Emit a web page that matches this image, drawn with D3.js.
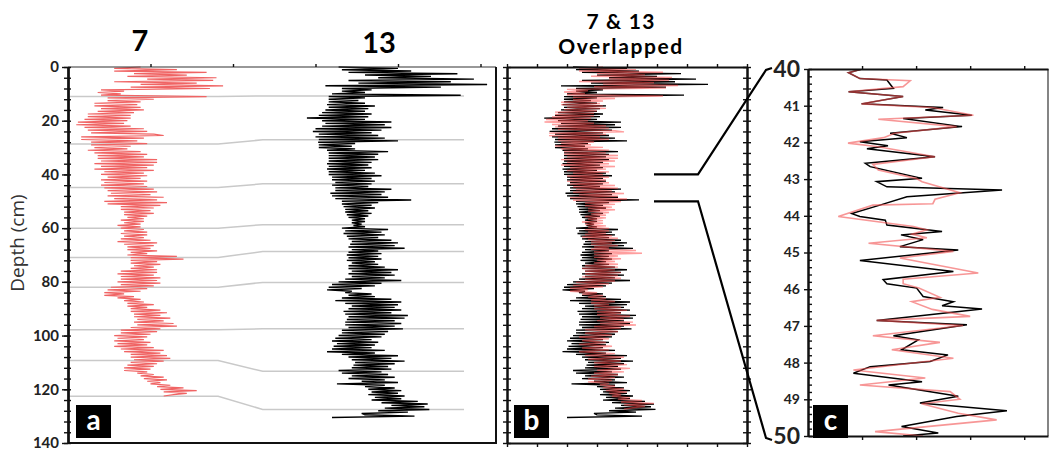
<!DOCTYPE html>
<html>
<head>
<meta charset="utf-8">
<script src="https://cdn.jsdelivr.net/npm/d3@7"></script>
<style>
body { margin: 0; background: #fff; }
text { font-family: Lato, "Open Sans", sans-serif; }
</style>
</head>
<body>
<svg id="chart" width="1052" height="453"></svg>
<script>
// sample spacing of both cores (cm)
var depthStep = 0.5;

// core 7, one value every 0.5 cm from 0 cm
var val7 = [
  2.2,1.4,3.3,1.4,4.2,2.0,3.6,1.8,4.5,2.4,
  4.4,1.4,3.9,2.2,4.7,1.9,4.3,1.0,1.7,0.9,
  1.6,1.0,4.2,1.2,2.6,1.2,2.2,0.8,2.1,0.8,
  2.2,1.0,2.3,0.9,2.0,0.6,1.9,0.6,1.9,0.5,
  1.8,0.3,1.7,0.25,1.9,0.5,2.3,0.6,2.4,0.7,
  2.6,2.9,0.4,2.3,0.4,2.1,0.7,2.4,0.7,1.9,
  0.8,1.8,0.6,2.2,0.8,2.4,0.9,2.3,0.9,2.7,
  1.0,2.7,0.8,2.6,1.0,2.4,0.8,2.6,1.1,2.3,
  1.0,2.4,1.2,2.2,1.0,2.4,1.1,2.3,1.0,2.4,
  1.1,2.6,1.2,2.7,1.3,2.5,1.2,2.9,1.4,2.7,
  1.1,3.0,1.2,2.8,1.6,2.6,1.6,2.5,1.7,2.6,
  1.7,2.4,1.8,2.3,1.6,2.3,1.7,2.2,1.5,2.2,
  1.6,2.3,1.7,2.4,1.6,2.4,1.7,2.3,1.6,2.5,
  1.5,2.7,1.7,2.6,1.8,2.5,1.8,2.7,1.9,2.4,
  1.8,3.3,1.9,3.5,1.9,2.7,1.9,2.8,2.0,2.6,
  1.9,2.7,1.6,2.7,1.5,2.6,1.6,2.8,1.6,2.7,
  1.5,2.8,1.6,2.6,1.3,2.4,1.2,2.2,1.1,1.7,
  1.1,2.0,1.5,2.2,1.7,2.3,1.8,2.6,1.8,2.4,
  1.9,2.8,1.9,3.0,2.0,2.8,2.0,3.1,2.1,2.9,
  2.0,3.2,2.1,3.3,1.9,2.8,1.6,2.7,1.6,2.5,
  1.4,2.4,1.5,2.3,1.4,2.5,1.5,2.4,1.4,2.6,
  1.6,2.9,1.7,2.8,1.9,3.0,1.9,3.1,2.0,2.9,
  1.9,2.7,1.8,2.6,1.7,2.5,1.7,2.4,2.1,2.6,
  2.2,2.9,2.3,3.0,2.4,2.8,2.5,3.1,2.7,3.5,
  2.8,3.9,2.9,3.6,3.2,2.9
];

// core 13, one value every 0.5 cm from 0 cm
var val13 = [
  1.2,3.0,1.3,3.4,1.5,4.8,2.0,4.0,2.4,5.3,
  1.5,4.6,1.8,5.7,0.8,4.3,1.3,2.2,1.3,2.0,
  1.0,4.9,0.9,2.0,0.9,1.8,0.9,2.0,0.85,2.3,
  0.9,2.1,0.8,2.0,0.7,2.2,0.6,2.1,0.24,2.0,
  0.7,2.8,0.8,2.6,0.7,2.8,0.5,2.5,0.42,2.2,
  0.6,2.4,0.5,2.6,0.6,3.0,0.58,1.7,0.6,1.6,
  0.6,1.7,0.85,2.7,0.9,2.4,0.9,2.3,0.9,2.4,
  0.9,2.2,0.85,2.1,0.9,2.2,0.85,2.0,0.9,2.3,
  0.9,2.5,1.0,2.2,1.0,2.3,1.1,2.2,1.0,2.1,
  1.1,2.8,1.1,2.6,0.95,2.5,1.0,2.7,1.1,3.4,
  1.3,2.4,1.3,2.2,1.35,2.3,1.4,2.1,1.4,2.2,
  1.45,2.1,1.5,2.0,1.6,2.0,1.6,1.9,1.65,2.0,
  1.3,2.7,1.4,2.5,1.35,2.6,1.45,2.4,1.5,2.8,
  1.6,3.0,1.55,2.9,1.5,3.2,1.6,2.4,1.5,2.5,
  1.45,2.4,1.5,2.5,1.45,2.3,1.6,2.4,1.5,2.6,
  1.5,3.0,1.6,2.8,1.5,2.9,1.6,2.6,1.4,3.1,
  1.2,2.5,1.0,2.3,0.9,1.9,0.85,1.6,1.4,2.2,
  1.5,2.3,1.3,2.8,1.1,3.1,1.4,3.0,1.6,2.9,
  1.5,3.1,1.35,2.8,1.4,3.3,1.5,3.2,1.45,2.9,
  1.4,3.1,1.4,2.9,1.5,3.15,1.3,2.7,1.3,2.6,
  1.2,2.5,1.1,2.2,1.0,2.4,1.15,2.3,1.05,2.2,
  1.0,2.6,0.85,2.3,1.3,3.0,1.5,2.8,1.6,3.2,
  1.7,2.9,1.65,2.7,1.6,2.8,1.2,2.5,1.3,2.7,
  1.6,2.9,1.5,2.6,1.9,3.0,1.15,2.6,2.0,2.9,
  2.1,3.1,2.2,3.0,2.1,3.2,2.3,3.1,2.2,3.6,
  2.5,3.9,2.8,3.8,2.6,3.95,2.4,3.3,1.9,2.0,
  3.5,1.0
];

// tie points: depth in core 7 -> matching depth in core 13
var tie7  = [11.0, 28.7, 44.9, 60.0, 70.9, 82.0, 97.8, 109.3, 122.6];
var tie13 = [10.8, 27.1, 43.5, 58.7, 68.7, 80.2, 97.5, 113.3, 127.5];

// detail of 40-50 cm: [depth, value]
var zoom13 = [
  [40.0,1.0],[40.1,0.75],[40.26,0.96],[40.3,1.46],[40.53,1.58],[40.62,0.75],[40.75,1.76],
  [40.95,0.99],[41.05,2.5],[41.12,2.17],[41.26,3.03],[41.35,1.76],[41.57,2.85],[41.75,1.52],
  [41.87,1.83],[41.98,0.96],[42.09,1.48],[42.17,1.09],[42.39,2.35],[42.57,1.06],[42.66,1.15],
  [42.98,2.11],[43.07,1.27],[43.21,1.46],[43.3,3.59],[43.48,1.83],[43.71,1.33],[43.94,0.81],
  [44.02,0.96],[44.12,1.43],[44.25,1.46],[44.43,2.48],[44.52,1.72],[44.65,2.13],[44.84,1.7],
  [44.93,2.78],[45.22,0.96],[45.52,2.69],[45.74,1.39],[45.85,1.46],[45.97,2.01],[46.2,2.13],
  [46.34,2.69],[46.45,2.48],[46.54,3.22],[46.85,1.27],[46.97,2.94],[47.27,1.58],[47.38,2.04],
  [47.65,1.73],[47.79,2.59],[47.97,2.26],[48.11,1.15],[48.29,0.84],[48.52,2.11],[48.61,1.49],
  [48.92,2.78],[49.1,2.07],[49.31,3.68],[49.47,2.75],[49.74,1.73],[49.92,2.41],[50.0,1.76]
];
var zoom7 = [
  [40.0,1.0],[40.1,0.75],[40.26,0.96],[40.32,1.89],[40.48,1.76],[40.62,0.75],[40.75,1.76],
  [40.95,0.99],[41.05,2.3],[41.26,3.06],[41.37,1.3],[41.57,2.75],[41.75,1.6],[41.87,1.4],
  [42.02,0.74],[42.12,1.3],[42.39,2.35],[42.6,1.2],[42.75,1.3],[42.98,2.0],[43.07,2.11],
  [43.37,2.81],[43.55,2.35],[43.67,2.31],[43.71,1.2],[44.02,0.56],[44.29,1.95],[44.38,2.2],
  [44.5,1.92],[44.6,2.2],[44.75,1.12],[44.97,2.69],[45.15,1.7],[45.56,3.15],[45.73,1.76],
  [45.85,1.76],[45.97,2.05],[46.22,2.44],[46.34,1.92],[46.55,2.3],[46.74,3.0],[46.85,1.27],
  [46.99,2.87],[47.27,1.2],[47.45,2.44],[47.65,1.55],[47.88,2.69],[48.2,0.84],[48.42,2.17],
  [48.61,0.96],[48.79,2.63],[49.0,2.81],[49.12,2.1],[49.38,2.78],[49.56,3.49],[49.88,1.24],
  [50.0,2.13]
];

var depthLabels = [0, 20, 40, 60, 80, 100, 120, 140];
var zoomLabels = [40, 41, 42, 43, 44, 45, 46, 47, 48, 49, 50];

var svg = d3.select("#chart");

// scales
var yA = d3.scaleLinear().domain([0, 140]).range([67, 443]);
var xA = d3.scaleLinear().domain([0, 13]).range([68, 497]);
var offset13 = 7; // core 13 is drawn shifted right in panel a
var xB = d3.scaleLinear().domain([-1, 7]).range([507, 747]);
var xC = d3.scaleLinear().domain([0, 4.44]).range([808, 1048]);
var yC = d3.scaleLinear().domain([40, 50]).range([69, 436]);
var to13 = d3.scaleLinear().domain([0].concat(tie7)).range([0].concat(tie13));

var data7 = val7.map(function (v, i) { return { d: i * depthStep, v: v }; });
var data13 = val13.map(function (v, i) { return { d: i * depthStep, v: v }; });

function styleAxis(g, w) {
    g.select(".domain").attr("stroke", "#111").attr("stroke-width", w || 2);
    g.selectAll(".tick line").attr("stroke", "#111").attr("stroke-width", 1.4);
    g.selectAll(".tick text").attr("fill", "#222").style("font-weight", "bold");
}

// ---------- panel a ----------
var gA = svg.append("g");

// tie lines
tie7.forEach(function (d7, i) {
    var d13 = tie13[i];
    gA.append("polyline")
        .attr("points", [[xA(0), yA(d7)], [xA(4.55), yA(d7)], [xA(5.9), yA(d13)], [xA(12), yA(d13)]].join(" "))
        .attr("fill", "none")
        .attr("stroke", "#c9c9c9")
        .attr("stroke-width", 1.5);
});

gA.append("path")
    .datum(data7)
    .attr("fill", "none")
    .attr("stroke", "#f06464")
    .attr("stroke-width", 1.2)
    .attr("d", d3.line().x(function (d) { return xA(d.v); }).y(function (d) { return yA(d.d); }));

gA.append("path")
    .datum(data13)
    .attr("fill", "none")
    .attr("stroke", "#000")
    .attr("stroke-width", 1.4)
    .attr("d", d3.line().x(function (d) { return xA(d.v + offset13); }).y(function (d) { return yA(d.d); }));

// frame
gA.append("line").attr("x1", xA(0)).attr("x2", 496).attr("y1", 67).attr("y2", 67).attr("stroke", "#333").attr("stroke-width", 1.2);
gA.append("line").attr("x1", xA(0)).attr("x2", 497).attr("y1", 443).attr("y2", 443).attr("stroke", "#111").attr("stroke-width", 2);
gA.append("line").attr("x1", 496).attr("x2", 496).attr("y1", 67).attr("y2", 443).attr("stroke", "#111").attr("stroke-width", 2);

gA.append("g").attr("transform", "translate(0,67)")
    .call(d3.axisTop(xA).tickValues([2.5, 5, 7.5, 10, 12.5]).tickSize(3).tickSizeOuter(0).tickFormat(""))
    .call(function (g) { styleAxis(g, 1.2); g.select(".domain").remove(); });

gA.append("g").attr("transform", "translate(68,0)")
    .call(d3.axisRight(yA).tickValues(d3.range(0, 141, 4)).tickSize(3).tickSizeOuter(0).tickFormat(""))
    .call(styleAxis);
gA.append("g").attr("transform", "translate(68,0)")
    .call(d3.axisLeft(yA).tickValues(d3.range(0, 141, 4)).tickSize(4).tickSizeOuter(0).tickFormat(""))
    .call(styleAxis);
gA.append("g").attr("transform", "translate(68,0)")
    .call(d3.axisLeft(yA).tickValues(depthLabels).tickSize(6).tickPadding(3).tickSizeOuter(0))
    .call(styleAxis)
    .selectAll(".tick text").style("font-size", "15px");

svg.append("text")
    .attr("transform", "translate(24,243) rotate(-90)")
    .attr("text-anchor", "middle")
    .style("font-family", "'Open Sans', sans-serif")
    .style("font-size", "19px")
    .attr("fill", "#333")
    .text("Depth (cm)");

svg.append("text").attr("x", 140).attr("y", 51).attr("text-anchor", "middle")
    .style("font-size", "29px").style("font-weight", "bold").text("7");
svg.append("text").attr("x", 379).attr("y", 53).attr("text-anchor", "middle")
    .style("font-size", "29px").style("font-weight", "bold").text("13");

// ---------- panel b ----------
var gB = svg.append("g");

gB.append("path")
    .datum(data13)
    .attr("fill", "none")
    .attr("stroke", "#000")
    .attr("stroke-width", 1.3)
    .attr("d", d3.line().x(function (d) { return xB(d.v); }).y(function (d) { return yA(d.d); }));

gB.append("path")
    .datum(data7)
    .attr("fill", "none")
    .attr("stroke", "#ff4f4f")
    .attr("stroke-opacity", 0.55)
    .attr("stroke-width", 1.4)
    .attr("d", d3.line().x(function (d) { return xB(d.v); }).y(function (d) { return yA(to13(d.d)); }));

[507, 747].forEach(function (x) {
    gB.append("g").attr("transform", "translate(" + x + ",0)")
        .call(d3.axisRight(yA).tickValues(d3.range(0, 141, 4)).tickSize(4).tickSizeOuter(0).tickFormat(""))
        .call(styleAxis);
    gB.append("g").attr("transform", "translate(" + x + ",0)")
        .call(d3.axisLeft(yA).tickValues(d3.range(0, 141, 4)).tickSize(4).tickSizeOuter(0).tickFormat(""))
        .call(styleAxis);
});
gB.append("g").attr("transform", "translate(0,67)")
    .call(d3.axisTop(xB).tickValues(d3.range(-1, 8)).tickSize(3).tickSizeOuter(0).tickFormat(""))
    .call(function (g) { styleAxis(g, 2); });
gB.append("g").attr("transform", "translate(0,443)")
    .call(d3.axisBottom(xB).tickValues(d3.range(-1, 8)).tickSize(4).tickSizeOuter(0).tickFormat(""))
    .call(function (g) { styleAxis(g, 2); });

svg.append("text").attr("x", 621).attr("y", 29).attr("text-anchor", "middle")
    .style("font-size", "21px").style("font-weight", "bold").style("letter-spacing", "1.2px").text("7 & 13");
svg.append("text").attr("x", 621).attr("y", 54).attr("text-anchor", "middle")
    .style("font-size", "21px").style("font-weight", "bold").style("letter-spacing", "1.6px").text("Overlapped");

// connectors from panel b to panel c
[[40, 70, 68], [50, 438, 440]].forEach(function (c) {
    svg.append("polyline")
        .attr("points", [[654, yA(c[0])], [698, yA(c[0])], [766, c[1]], [772, c[2]]].join(" "))
        .attr("fill", "none")
        .attr("stroke", "#000")
        .attr("stroke-width", 2.2);
});

// ---------- panel c ----------
var gC = svg.append("g");
svg.append("clipPath").attr("id", "clipC")
    .append("rect").attr("x", 808).attr("y", 69).attr("width", 240).attr("height", 367);

gC.append("path")
    .datum(zoom13)
    .attr("clip-path", "url(#clipC)")
    .attr("fill", "none")
    .attr("stroke", "#000")
    .attr("stroke-width", 1.5)
    .attr("d", d3.line().x(function (d) { return xC(d[1]); }).y(function (d) { return yC(d[0]); }));

gC.append("path")
    .datum(zoom7)
    .attr("clip-path", "url(#clipC)")
    .attr("fill", "none")
    .attr("stroke", "#f25050")
    .attr("stroke-opacity", 0.6)
    .attr("stroke-width", 1.6)
    .attr("d", d3.line().x(function (d) { return xC(d[1]); }).y(function (d) { return yC(d[0]); }));

gC.append("line").attr("x1", 1048).attr("x2", 1048).attr("y1", 69).attr("y2", 436).attr("stroke", "#333").attr("stroke-width", 1.2);
gC.append("g").attr("transform", "translate(0,69)")
    .call(d3.axisTop(xC).tickValues([1, 2, 3, 4]).tickSize(3).tickSizeOuter(0).tickFormat(""))
    .call(function (g) { styleAxis(g, 2); });
gC.append("g").attr("transform", "translate(0,436)")
    .call(d3.axisBottom(xC).tickValues([1, 2, 3, 4]).tickSize(4).tickSizeOuter(0).tickFormat(""))
    .call(function (g) { styleAxis(g, 2); });
gC.append("g").attr("transform", "translate(808,0)")
    .call(d3.axisRight(yC).tickValues(d3.range(40, 50.01, 0.2)).tickSize(4).tickSizeOuter(0).tickFormat(""))
    .call(styleAxis);
gC.append("g").attr("transform", "translate(808,0)")
    .call(d3.axisLeft(yC).tickValues(zoomLabels).tickSize(4).tickPadding(4).tickSizeOuter(0))
    .call(styleAxis)
    .selectAll(".tick text")
    .style("font-size", function (d) { return (d === 40 || d === 50) ? "23px" : "14px"; })
    .attr("fill", "#222");

// ---------- panel letters ----------
[["a", 76], ["b", 514], ["c", 813]].forEach(function (p) {
    svg.append("rect").attr("x", p[1]).attr("y", 405).attr("width", 35).attr("height", 33).attr("fill", "#000");
    svg.append("text").attr("x", p[1] + 17.5).attr("y", 430).attr("text-anchor", "middle")
        .attr("fill", "#fff").style("font-size", "28px").style("font-weight", "bold").text(p[0]);
});
</script>
</body>
</html>
